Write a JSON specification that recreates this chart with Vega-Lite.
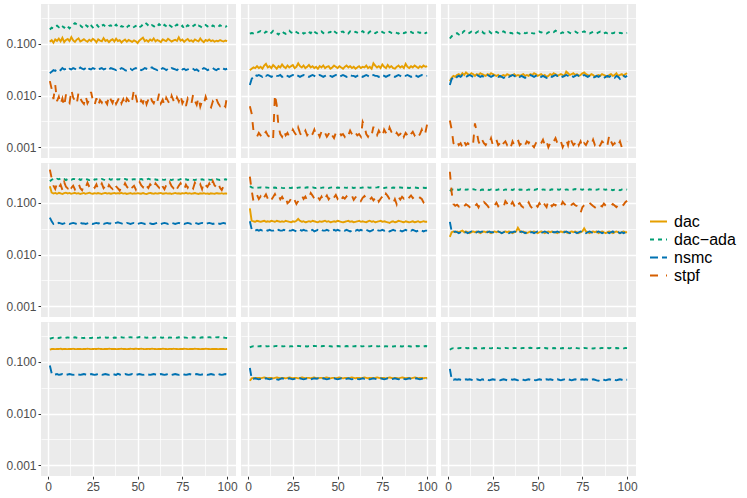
{
  "$schema": "https://vega.github.io/schema/vega-lite/v6.json",
  "background": "white",
  "padding": {"left": 5, "top": 4, "right": 5, "bottom": 5},
  "data": {
    "values": [
      {"r": 1, "c": 1, "method": "dac", "y": [0.110,0.118,0.105,0.122,0.114,0.126,0.112,0.131,0.108,0.119,0.124,0.113,0.135,0.117,0.109,0.121,0.128,0.111,0.116,0.123,0.115,0.110,0.120,0.113,0.125,0.118,0.107,0.122,0.116,0.112,0.129,0.114,0.119,0.108,0.117,0.123,0.111,0.126,0.113,0.118,0.106,0.115,0.121,0.110,0.119,0.114,0.109,0.117,0.112,0.104,0.116,0.124,0.132,0.113,0.118,0.110,0.121,0.115,0.127,0.112,0.119,0.114,0.108,0.122,0.117,0.113,0.125,0.118,0.111,0.116,0.120,0.114,0.134,0.115,0.121,0.109,0.118,0.124,0.113,0.117,0.110,0.122,0.116,0.112,0.127,0.115,0.108,0.119,0.114,0.121,0.113,0.117,0.110,0.115,0.112,0.118,0.114,0.111,0.116,0.113]},
      {"r": 1, "c": 1, "method": "dac-ada", "y": [0.190,0.205,0.198,0.215,0.224,0.210,0.232,0.219,0.205,0.228,0.214,0.200,0.221,0.236,0.252,0.238,0.219,0.226,0.211,0.240,0.231,0.216,0.245,0.228,0.208,0.222,0.239,0.217,0.204,0.226,0.233,0.215,0.210,0.224,0.229,0.207,0.219,0.236,0.212,0.203,0.221,0.214,0.198,0.209,0.226,0.218,0.203,0.212,0.222,0.231,0.210,0.219,0.238,0.259,0.244,0.226,0.213,0.230,0.221,0.206,0.218,0.240,0.224,0.212,0.233,0.219,0.205,0.227,0.214,0.201,0.222,0.236,0.217,0.209,0.225,0.195,0.213,0.229,0.218,0.207,0.221,0.234,0.212,0.226,0.219,0.206,0.214,0.231,0.218,0.224,0.210,0.227,0.216,0.221,0.213,0.229,0.218,0.224,0.215,0.220]},
      {"r": 1, "c": 1, "method": "nsmc", "y": [0.027,0.029,0.031,0.030,0.032,0.033,0.031,0.034,0.032,0.033,0.031,0.033,0.032,0.034,0.033,0.031,0.032,0.035,0.033,0.032,0.034,0.031,0.033,0.032,0.034,0.033,0.031,0.032,0.033,0.034,0.032,0.033,0.031,0.032,0.034,0.033,0.032,0.031,0.033,0.032,0.034,0.033,0.031,0.030,0.032,0.033,0.031,0.033,0.034,0.032,0.033,0.031,0.032,0.034,0.033,0.032,0.034,0.035,0.033,0.032,0.031,0.033,0.032,0.034,0.033,0.031,0.033,0.032,0.034,0.033,0.032,0.031,0.033,0.034,0.032,0.033,0.031,0.032,0.033,0.034,0.033,0.031,0.032,0.030,0.033,0.032,0.034,0.033,0.031,0.032,0.033,0.034,0.032,0.031,0.033,0.032,0.034,0.033,0.032,0.033]},
      {"r": 1, "c": 1, "method": "stpf", "y": [0.019,0.0135,0.0085,0.016,0.0078,0.0095,0.0068,0.0088,0.0062,0.0105,0.0081,0.0072,0.0128,0.0092,0.0079,0.0068,0.0115,0.0088,0.0076,0.0069,0.0098,0.0071,0.0083,0.0118,0.0081,0.0066,0.0089,0.0064,0.0082,0.0073,0.0091,0.0078,0.0068,0.0101,0.0084,0.0072,0.0093,0.0069,0.0081,0.0097,0.0071,0.0085,0.0064,0.0088,0.0079,0.0067,0.0083,0.0131,0.0098,0.0069,0.0063,0.0081,0.0072,0.0094,0.0068,0.0084,0.0102,0.0079,0.0071,0.0089,0.0076,0.0108,0.0071,0.0083,0.0065,0.0091,0.0078,0.0068,0.0099,0.0081,0.0069,0.0092,0.0077,0.0102,0.0071,0.0084,0.0063,0.0088,0.0076,0.0068,0.0105,0.0079,0.0066,0.0091,0.0061,0.0078,0.0069,0.0095,0.0075,0.0064,0.0059,0.0077,0.0068,0.0086,0.0071,0.0063,0.0074,0.0066,0.0061,0.0102]},
      {"r": 1, "c": 2, "method": "dac", "y": [0.031,0.033,0.035,0.034,0.037,0.034,0.036,0.033,0.038,0.041,0.035,0.037,0.034,0.039,0.036,0.033,0.037,0.035,0.040,0.036,0.034,0.038,0.035,0.037,0.039,0.034,0.036,0.042,0.037,0.035,0.038,0.034,0.036,0.039,0.035,0.037,0.034,0.036,0.033,0.037,0.035,0.038,0.034,0.036,0.037,0.033,0.035,0.038,0.036,0.034,0.037,0.035,0.033,0.036,0.038,0.035,0.037,0.034,0.036,0.033,0.035,0.037,0.034,0.036,0.035,0.038,0.034,0.036,0.033,0.042,0.038,0.035,0.037,0.034,0.040,0.036,0.034,0.039,0.035,0.037,0.034,0.033,0.036,0.038,0.035,0.037,0.034,0.041,0.036,0.034,0.037,0.035,0.038,0.036,0.034,0.037,0.035,0.038,0.036,0.037]},
      {"r": 1, "c": 2, "method": "dac-ada", "y": [0.158,0.162,0.160,0.168,0.163,0.171,0.176,0.165,0.159,0.172,0.168,0.155,0.163,0.178,0.166,0.161,0.152,0.169,0.174,0.163,0.157,0.171,0.180,0.167,0.162,0.175,0.169,0.160,0.165,0.172,0.158,0.164,0.177,0.168,0.161,0.183,0.171,0.163,0.156,0.169,0.174,0.162,0.159,0.168,0.165,0.171,0.160,0.176,0.166,0.158,0.163,0.170,0.173,0.161,0.167,0.159,0.174,0.168,0.162,0.171,0.165,0.158,0.167,0.176,0.163,0.169,0.160,0.172,0.178,0.166,0.161,0.168,0.174,0.180,0.169,0.163,0.158,0.166,0.171,0.163,0.160,0.167,0.163,0.158,0.169,0.165,0.161,0.167,0.159,0.164,0.170,0.162,0.166,0.160,0.168,0.163,0.172,0.165,0.161,0.166]},
      {"r": 1, "c": 2, "method": "nsmc", "y": [0.016,0.021,0.023,0.025,0.024,0.025,0.024,0.023,0.025,0.024,0.025,0.024,0.023,0.024,0.025,0.024,0.024,0.025,0.023,0.024,0.025,0.024,0.023,0.024,0.025,0.024,0.025,0.024,0.023,0.024,0.025,0.024,0.024,0.023,0.024,0.025,0.024,0.023,0.024,0.025,0.024,0.023,0.024,0.025,0.024,0.024,0.023,0.024,0.025,0.024,0.023,0.024,0.025,0.024,0.023,0.024,0.025,0.024,0.024,0.023,0.024,0.025,0.024,0.023,0.024,0.025,0.024,0.023,0.024,0.025,0.024,0.024,0.023,0.024,0.025,0.024,0.023,0.024,0.025,0.024,0.024,0.023,0.024,0.025,0.024,0.023,0.024,0.024,0.025,0.024,0.023,0.024,0.025,0.024,0.023,0.024,0.025,0.024,0.024,0.024]},
      {"r": 1, "c": 2, "method": "stpf", "y": [0.0062,0.0045,0.0021,0.0018,0.0016,0.0019,0.0017,0.0015,0.0018,0.0020,0.0017,0.0016,0.0018,0.0015,0.0105,0.0065,0.0025,0.0018,0.0016,0.0021,0.0017,0.0019,0.0016,0.0018,0.0022,0.0019,0.0017,0.0024,0.0019,0.0016,0.0018,0.0021,0.0017,0.0019,0.0016,0.0018,0.0022,0.0017,0.0019,0.0016,0.0020,0.0017,0.0019,0.0016,0.0018,0.0021,0.0017,0.0015,0.0019,0.0018,0.0020,0.0017,0.0018,0.0016,0.0019,0.0017,0.0021,0.0018,0.0016,0.0019,0.0017,0.0018,0.0016,0.0031,0.0026,0.0018,0.0016,0.0019,0.0017,0.0025,0.0019,0.0017,0.0021,0.0018,0.0016,0.0022,0.0019,0.0017,0.0024,0.0020,0.0018,0.0016,0.0019,0.0017,0.0018,0.0021,0.0016,0.0019,0.0017,0.0015,0.0018,0.0020,0.0017,0.0019,0.0016,0.0018,0.0022,0.0017,0.0019,0.0028]},
      {"r": 1, "c": 3, "method": "dac", "y": [0.019,0.022,0.024,0.023,0.025,0.026,0.024,0.027,0.025,0.028,0.026,0.025,0.027,0.026,0.024,0.026,0.025,0.027,0.026,0.025,0.024,0.026,0.025,0.027,0.026,0.025,0.024,0.025,0.023,0.024,0.025,0.024,0.026,0.025,0.024,0.025,0.026,0.024,0.025,0.024,0.025,0.026,0.024,0.025,0.024,0.026,0.025,0.027,0.026,0.024,0.025,0.026,0.024,0.025,0.023,0.024,0.026,0.025,0.027,0.026,0.024,0.025,0.026,0.025,0.024,0.029,0.027,0.025,0.026,0.027,0.025,0.026,0.024,0.025,0.027,0.028,0.026,0.025,0.024,0.026,0.025,0.023,0.024,0.025,0.024,0.026,0.025,0.024,0.023,0.025,0.026,0.024,0.025,0.027,0.024,0.025,0.026,0.024,0.026,0.027]},
      {"r": 1, "c": 3, "method": "dac-ada", "y": [0.127,0.140,0.148,0.155,0.161,0.152,0.170,0.164,0.178,0.167,0.158,0.163,0.172,0.165,0.157,0.168,0.175,0.166,0.172,0.160,0.158,0.167,0.174,0.162,0.155,0.165,0.171,0.163,0.158,0.169,0.174,0.165,0.161,0.157,0.164,0.159,0.166,0.171,0.163,0.158,0.165,0.168,0.160,0.163,0.172,0.166,0.161,0.158,0.164,0.169,0.173,0.166,0.170,0.163,0.159,0.167,0.171,0.176,0.169,0.180,0.172,0.165,0.161,0.167,0.158,0.164,0.170,0.163,0.159,0.166,0.172,0.165,0.160,0.163,0.169,0.174,0.166,0.162,0.158,0.165,0.171,0.164,0.160,0.166,0.172,0.163,0.159,0.165,0.161,0.168,0.163,0.160,0.165,0.162,0.158,0.164,0.161,0.166,0.162,0.163]},
      {"r": 1, "c": 3, "method": "nsmc", "y": [0.016,0.021,0.022,0.021,0.023,0.024,0.023,0.025,0.024,0.023,0.024,0.025,0.024,0.023,0.024,0.025,0.024,0.023,0.024,0.023,0.024,0.025,0.024,0.023,0.024,0.025,0.024,0.023,0.024,0.023,0.022,0.023,0.024,0.023,0.024,0.025,0.024,0.023,0.024,0.023,0.024,0.023,0.022,0.023,0.024,0.025,0.024,0.023,0.024,0.025,0.024,0.023,0.024,0.023,0.022,0.023,0.024,0.023,0.024,0.025,0.024,0.025,0.024,0.023,0.024,0.025,0.024,0.023,0.024,0.023,0.024,0.025,0.024,0.023,0.024,0.025,0.024,0.023,0.024,0.023,0.022,0.023,0.024,0.023,0.024,0.023,0.022,0.023,0.024,0.023,0.024,0.023,0.022,0.024,0.023,0.021,0.023,0.024,0.023,0.024]},
      {"r": 1, "c": 3, "method": "stpf", "y": [0.0033,0.0022,0.0012,0.0011,0.0013,0.0011,0.0012,0.0010,0.0013,0.0011,0.0012,0.0011,0.0013,0.0012,0.0029,0.0020,0.0013,0.0011,0.0014,0.0012,0.0011,0.0013,0.0012,0.0015,0.0011,0.0012,0.0014,0.0011,0.0012,0.0010,0.0012,0.0013,0.0011,0.0012,0.0010,0.0013,0.0011,0.0012,0.0014,0.0011,0.0012,0.0010,0.0011,0.0013,0.0012,0.0014,0.0011,0.0010,0.0012,0.0013,0.0011,0.0012,0.0014,0.0011,0.0013,0.0010,0.0012,0.0011,0.0013,0.0015,0.0012,0.0011,0.0013,0.0010,0.0012,0.0014,0.0011,0.0016,0.0013,0.0011,0.0012,0.0014,0.0011,0.0013,0.0010,0.0012,0.0011,0.0013,0.0012,0.0011,0.0014,0.0011,0.0012,0.0010,0.0011,0.0013,0.0012,0.0010,0.0011,0.0017,0.0013,0.0011,0.0012,0.0010,0.0011,0.0013,0.0010,0.0011,0.0012,0.0013]},
      {"r": 2, "c": 1, "method": "dac", "y": [0.210,0.158,0.152,0.155,0.150,0.156,0.153,0.149,0.154,0.157,0.152,0.155,0.150,0.153,0.156,0.151,0.154,0.149,0.152,0.155,0.150,0.153,0.157,0.152,0.150,0.154,0.151,0.155,0.152,0.149,0.153,0.156,0.151,0.154,0.150,0.153,0.155,0.151,0.154,0.152,0.156,0.151,0.153,0.149,0.152,0.155,0.150,0.153,0.151,0.154,0.152,0.150,0.155,0.151,0.148,0.153,0.156,0.152,0.150,0.154,0.151,0.153,0.155,0.150,0.152,0.154,0.151,0.153,0.149,0.152,0.155,0.151,0.153,0.150,0.154,0.152,0.156,0.151,0.153,0.150,0.152,0.155,0.151,0.149,0.153,0.151,0.154,0.150,0.152,0.149,0.153,0.151,0.150,0.154,0.152,0.151,0.153,0.150,0.152,0.151]},
      {"r": 2, "c": 1, "method": "dac-ada", "y": [0.262,0.280,0.289,0.278,0.293,0.285,0.296,0.282,0.288,0.276,0.291,0.284,0.279,0.290,0.287,0.281,0.293,0.278,0.286,0.280,0.289,0.283,0.276,0.285,0.292,0.281,0.287,0.279,0.284,0.290,0.282,0.277,0.286,0.291,0.280,0.285,0.278,0.289,0.283,0.287,0.279,0.284,0.290,0.281,0.286,0.278,0.283,0.288,0.282,0.276,0.285,0.290,0.281,0.287,0.279,0.293,0.284,0.280,0.288,0.283,0.277,0.286,0.291,0.282,0.279,0.285,0.289,0.281,0.276,0.284,0.290,0.283,0.279,0.287,0.292,0.281,0.285,0.278,0.283,0.289,0.281,0.276,0.284,0.288,0.280,0.285,0.279,0.283,0.287,0.281,0.278,0.284,0.280,0.286,0.282,0.277,0.283,0.280,0.285,0.281]},
      {"r": 2, "c": 1, "method": "nsmc", "y": [0.052,0.044,0.039,0.040,0.039,0.041,0.040,0.039,0.040,0.041,0.040,0.039,0.040,0.041,0.040,0.039,0.040,0.041,0.040,0.040,0.039,0.040,0.041,0.040,0.039,0.040,0.041,0.040,0.041,0.040,0.039,0.040,0.041,0.040,0.040,0.039,0.040,0.041,0.042,0.041,0.040,0.039,0.040,0.041,0.040,0.039,0.040,0.041,0.040,0.039,0.040,0.041,0.040,0.039,0.040,0.041,0.040,0.039,0.039,0.040,0.041,0.040,0.039,0.040,0.041,0.040,0.039,0.040,0.041,0.040,0.039,0.040,0.041,0.040,0.040,0.039,0.040,0.041,0.040,0.039,0.040,0.041,0.040,0.039,0.040,0.041,0.040,0.039,0.040,0.041,0.040,0.039,0.040,0.041,0.040,0.039,0.040,0.041,0.040,0.040]},
      {"r": 2, "c": 1, "method": "stpf", "y": [0.440,0.300,0.215,0.185,0.240,0.198,0.225,0.178,0.252,0.205,0.190,0.232,0.196,0.215,0.182,0.208,0.238,0.192,0.176,0.220,0.199,0.245,0.205,0.185,0.214,0.196,0.228,0.181,0.203,0.236,0.192,0.210,0.178,0.221,0.199,0.186,0.235,0.207,0.190,0.172,0.211,0.196,0.240,0.205,0.188,0.226,0.199,0.214,0.181,0.233,0.257,0.219,0.201,0.246,0.213,0.194,0.229,0.208,0.187,0.238,0.215,0.197,0.244,0.206,0.183,0.220,0.199,0.248,0.211,0.193,0.226,0.187,0.214,0.240,0.202,0.180,0.225,0.197,0.233,0.209,0.189,0.244,0.216,0.198,0.228,0.185,0.251,0.220,0.203,0.236,0.195,0.262,0.218,0.202,0.240,0.196,0.177,0.213,0.187,0.205]},
      {"r": 2, "c": 2, "method": "dac", "y": [0.078,0.045,0.044,0.043,0.045,0.044,0.043,0.044,0.045,0.043,0.044,0.043,0.045,0.044,0.043,0.045,0.044,0.043,0.044,0.043,0.045,0.044,0.043,0.042,0.044,0.043,0.045,0.049,0.045,0.043,0.044,0.042,0.043,0.044,0.043,0.045,0.044,0.043,0.042,0.044,0.043,0.044,0.045,0.043,0.044,0.042,0.043,0.044,0.043,0.045,0.044,0.043,0.042,0.043,0.044,0.045,0.043,0.044,0.042,0.043,0.044,0.045,0.043,0.044,0.043,0.042,0.044,0.045,0.043,0.044,0.042,0.043,0.044,0.045,0.043,0.044,0.043,0.042,0.041,0.043,0.044,0.042,0.043,0.045,0.044,0.043,0.042,0.044,0.043,0.042,0.043,0.044,0.042,0.043,0.044,0.042,0.043,0.044,0.043,0.043]},
      {"r": 2, "c": 2, "method": "dac-ada", "y": [0.210,0.199,0.196,0.198,0.195,0.197,0.199,0.196,0.194,0.198,0.197,0.195,0.199,0.196,0.198,0.194,0.197,0.199,0.195,0.193,0.197,0.199,0.196,0.194,0.198,0.196,0.193,0.197,0.199,0.195,0.198,0.196,0.200,0.197,0.195,0.199,0.196,0.194,0.198,0.197,0.195,0.199,0.196,0.198,0.194,0.197,0.199,0.196,0.195,0.198,0.196,0.194,0.198,0.197,0.195,0.199,0.196,0.198,0.194,0.197,0.199,0.196,0.195,0.198,0.197,0.194,0.199,0.196,0.198,0.195,0.197,0.199,0.202,0.198,0.196,0.194,0.197,0.199,0.196,0.195,0.198,0.196,0.194,0.197,0.199,0.196,0.195,0.198,0.196,0.194,0.197,0.195,0.198,0.196,0.194,0.197,0.195,0.196,0.194,0.196]},
      {"r": 2, "c": 2, "method": "nsmc", "y": [0.044,0.031,0.030,0.029,0.030,0.029,0.030,0.029,0.029,0.030,0.029,0.030,0.029,0.029,0.030,0.029,0.030,0.029,0.029,0.030,0.029,0.030,0.029,0.029,0.030,0.029,0.028,0.029,0.030,0.029,0.030,0.029,0.029,0.030,0.029,0.030,0.028,0.029,0.030,0.029,0.030,0.029,0.029,0.030,0.029,0.028,0.029,0.030,0.029,0.030,0.029,0.029,0.030,0.029,0.030,0.029,0.028,0.029,0.030,0.029,0.030,0.029,0.030,0.029,0.029,0.030,0.029,0.028,0.029,0.030,0.029,0.030,0.029,0.029,0.030,0.029,0.030,0.029,0.028,0.029,0.030,0.029,0.029,0.030,0.029,0.028,0.029,0.030,0.029,0.030,0.029,0.030,0.029,0.028,0.029,0.030,0.029,0.028,0.029,0.029]},
      {"r": 2, "c": 2, "method": "stpf", "y": [0.320,0.175,0.108,0.125,0.142,0.118,0.133,0.110,0.128,0.146,0.121,0.137,0.115,0.130,0.148,0.124,0.139,0.117,0.131,0.112,0.127,0.098,0.105,0.121,0.135,0.113,0.095,0.108,0.126,0.140,0.119,0.132,0.112,0.126,0.155,0.138,0.121,0.143,0.129,0.115,0.132,0.108,0.124,0.139,0.117,0.131,0.113,0.127,0.142,0.120,0.136,0.115,0.129,0.121,0.133,0.118,0.126,0.137,0.114,0.128,0.141,0.123,0.109,0.125,0.135,0.119,0.130,0.116,0.127,0.112,0.124,0.138,0.106,0.120,0.133,0.117,0.150,0.135,0.119,0.113,0.097,0.118,0.094,0.129,0.116,0.131,0.121,0.135,0.118,0.127,0.139,0.124,0.133,0.120,0.114,0.126,0.119,0.102,0.111,0.124]},
      {"r": 2, "c": 3, "method": "dac", "y": [0.022,0.027,0.028,0.027,0.028,0.027,0.028,0.029,0.027,0.028,0.027,0.026,0.027,0.028,0.027,0.028,0.027,0.026,0.027,0.028,0.027,0.028,0.027,0.026,0.027,0.028,0.027,0.028,0.027,0.026,0.027,0.028,0.027,0.028,0.027,0.026,0.027,0.028,0.033,0.029,0.027,0.028,0.027,0.026,0.027,0.028,0.027,0.028,0.027,0.026,0.027,0.028,0.027,0.026,0.027,0.028,0.027,0.028,0.027,0.027,0.026,0.027,0.028,0.027,0.028,0.027,0.026,0.027,0.028,0.027,0.028,0.027,0.026,0.027,0.028,0.032,0.028,0.027,0.026,0.027,0.028,0.027,0.028,0.026,0.027,0.028,0.027,0.026,0.027,0.028,0.027,0.026,0.027,0.028,0.027,0.026,0.027,0.028,0.027,0.027]},
      {"r": 2, "c": 3, "method": "dac-ada", "y": [0.170,0.182,0.179,0.184,0.181,0.178,0.183,0.180,0.185,0.179,0.182,0.177,0.181,0.184,0.180,0.178,0.183,0.176,0.181,0.179,0.184,0.180,0.177,0.182,0.179,0.183,0.178,0.181,0.185,0.180,0.177,0.182,0.179,0.184,0.181,0.178,0.183,0.180,0.176,0.181,0.179,0.184,0.180,0.177,0.182,0.179,0.183,0.178,0.181,0.185,0.180,0.177,0.182,0.179,0.184,0.181,0.178,0.183,0.180,0.176,0.181,0.179,0.184,0.180,0.177,0.182,0.179,0.183,0.178,0.181,0.185,0.180,0.177,0.182,0.179,0.184,0.181,0.178,0.183,0.180,0.176,0.181,0.179,0.184,0.180,0.177,0.182,0.179,0.183,0.178,0.181,0.176,0.180,0.183,0.179,0.175,0.181,0.178,0.182,0.180]},
      {"r": 2, "c": 3, "method": "nsmc", "y": [0.043,0.028,0.027,0.028,0.027,0.026,0.027,0.028,0.027,0.027,0.026,0.027,0.028,0.027,0.026,0.027,0.028,0.027,0.028,0.027,0.026,0.027,0.028,0.027,0.027,0.026,0.027,0.028,0.027,0.026,0.027,0.028,0.027,0.026,0.027,0.027,0.028,0.027,0.026,0.027,0.028,0.027,0.026,0.027,0.028,0.027,0.027,0.026,0.027,0.028,0.027,0.026,0.027,0.028,0.027,0.026,0.027,0.028,0.027,0.027,0.028,0.027,0.026,0.027,0.027,0.028,0.027,0.026,0.027,0.028,0.027,0.026,0.027,0.028,0.027,0.027,0.026,0.027,0.028,0.027,0.026,0.027,0.027,0.028,0.027,0.026,0.027,0.028,0.027,0.026,0.027,0.028,0.026,0.027,0.027,0.026,0.027,0.026,0.027,0.027]},
      {"r": 2, "c": 3, "method": "stpf", "y": [0.400,0.160,0.095,0.088,0.092,0.085,0.098,0.090,0.086,0.094,0.089,0.083,0.097,0.091,0.087,0.095,0.082,0.099,0.092,0.104,0.096,0.088,0.079,0.085,0.093,0.089,0.101,0.086,0.094,0.090,0.083,0.108,0.097,0.080,0.091,0.104,0.088,0.076,0.093,0.099,0.087,0.082,0.095,0.089,0.102,0.086,0.079,0.097,0.091,0.084,0.099,0.088,0.106,0.092,0.083,0.111,0.098,0.086,0.094,0.089,0.101,0.093,0.087,0.105,0.095,0.088,0.084,0.079,0.092,0.097,0.090,0.086,0.071,0.064,0.082,0.090,0.095,0.088,0.100,0.093,0.087,0.082,0.094,0.099,0.089,0.085,0.097,0.088,0.084,0.092,0.087,0.095,0.089,0.083,0.091,0.098,0.086,0.092,0.103,0.110]},
      {"r": 3, "c": 1, "method": "dac", "y": [0.172,0.177,0.178,0.176,0.178,0.177,0.179,0.176,0.178,0.177,0.176,0.178,0.177,0.179,0.177,0.176,0.178,0.177,0.176,0.178,0.177,0.179,0.178,0.176,0.177,0.178,0.177,0.179,0.178,0.177,0.176,0.178,0.177,0.179,0.178,0.177,0.178,0.176,0.177,0.178,0.179,0.177,0.178,0.176,0.177,0.179,0.178,0.177,0.180,0.178,0.177,0.179,0.178,0.176,0.177,0.178,0.177,0.179,0.178,0.177,0.176,0.178,0.177,0.179,0.178,0.177,0.176,0.178,0.177,0.179,0.178,0.177,0.176,0.178,0.177,0.179,0.178,0.176,0.177,0.178,0.177,0.179,0.178,0.177,0.176,0.178,0.177,0.179,0.178,0.177,0.176,0.178,0.177,0.178,0.176,0.177,0.178,0.177,0.176,0.177]},
      {"r": 3, "c": 1, "method": "dac-ada", "y": [0.280,0.288,0.292,0.289,0.294,0.290,0.296,0.291,0.288,0.293,0.297,0.292,0.289,0.294,0.298,0.293,0.290,0.295,0.291,0.289,0.294,0.296,0.292,0.289,0.295,0.299,0.294,0.291,0.296,0.293,0.290,0.295,0.292,0.297,0.294,0.291,0.296,0.293,0.290,0.295,0.299,0.294,0.296,0.292,0.297,0.300,0.296,0.293,0.298,0.295,0.302,0.298,0.294,0.297,0.293,0.296,0.299,0.295,0.292,0.297,0.294,0.291,0.296,0.293,0.298,0.295,0.292,0.297,0.294,0.291,0.296,0.293,0.298,0.295,0.292,0.297,0.294,0.291,0.296,0.293,0.298,0.295,0.292,0.296,0.293,0.298,0.295,0.292,0.297,0.300,0.296,0.299,0.302,0.298,0.301,0.297,0.300,0.296,0.291,0.289]},
      {"r": 3, "c": 1, "method": "nsmc", "y": [0.085,0.060,0.056,0.057,0.058,0.056,0.057,0.058,0.057,0.056,0.057,0.058,0.057,0.056,0.057,0.058,0.057,0.056,0.057,0.058,0.057,0.056,0.057,0.058,0.057,0.056,0.057,0.058,0.057,0.056,0.057,0.058,0.057,0.056,0.057,0.058,0.057,0.056,0.059,0.057,0.056,0.057,0.058,0.057,0.056,0.057,0.058,0.057,0.056,0.057,0.058,0.057,0.056,0.057,0.058,0.057,0.056,0.057,0.058,0.057,0.056,0.057,0.058,0.057,0.056,0.057,0.058,0.057,0.056,0.057,0.058,0.057,0.056,0.057,0.058,0.057,0.056,0.057,0.058,0.057,0.056,0.057,0.058,0.057,0.056,0.057,0.058,0.057,0.056,0.057,0.058,0.057,0.056,0.057,0.058,0.057,0.056,0.057,0.058,0.057]},
      {"r": 3, "c": 2, "method": "dac", "y": [0.043,0.048,0.049,0.048,0.049,0.049,0.048,0.049,0.050,0.049,0.048,0.049,0.049,0.048,0.049,0.050,0.049,0.048,0.049,0.049,0.048,0.049,0.050,0.049,0.048,0.049,0.049,0.048,0.049,0.050,0.049,0.048,0.049,0.049,0.048,0.049,0.050,0.049,0.048,0.049,0.049,0.048,0.049,0.050,0.049,0.048,0.049,0.049,0.048,0.049,0.050,0.049,0.048,0.049,0.049,0.048,0.049,0.050,0.049,0.048,0.049,0.049,0.048,0.049,0.050,0.049,0.048,0.049,0.049,0.048,0.049,0.050,0.049,0.048,0.049,0.049,0.048,0.049,0.050,0.049,0.048,0.049,0.049,0.048,0.049,0.050,0.049,0.048,0.049,0.049,0.048,0.049,0.050,0.049,0.048,0.049,0.049,0.048,0.049,0.049]},
      {"r": 3, "c": 2, "method": "dac-ada", "y": [0.190,0.197,0.200,0.198,0.201,0.199,0.202,0.200,0.198,0.201,0.199,0.202,0.200,0.198,0.201,0.203,0.200,0.198,0.201,0.199,0.202,0.200,0.198,0.201,0.199,0.202,0.200,0.203,0.201,0.199,0.202,0.200,0.198,0.201,0.199,0.202,0.204,0.201,0.199,0.202,0.200,0.203,0.201,0.199,0.202,0.200,0.198,0.201,0.199,0.202,0.200,0.198,0.201,0.199,0.202,0.200,0.203,0.201,0.199,0.202,0.200,0.198,0.201,0.199,0.202,0.204,0.201,0.199,0.202,0.200,0.198,0.201,0.199,0.202,0.200,0.198,0.201,0.199,0.197,0.200,0.198,0.201,0.199,0.202,0.200,0.198,0.201,0.199,0.202,0.200,0.198,0.201,0.199,0.202,0.200,0.203,0.201,0.199,0.202,0.200]},
      {"r": 3, "c": 2, "method": "nsmc", "y": [0.076,0.048,0.047,0.048,0.047,0.046,0.047,0.048,0.047,0.048,0.047,0.046,0.047,0.048,0.047,0.046,0.045,0.047,0.048,0.047,0.046,0.047,0.048,0.047,0.046,0.047,0.048,0.047,0.048,0.047,0.046,0.047,0.048,0.047,0.046,0.047,0.048,0.047,0.048,0.046,0.047,0.048,0.047,0.046,0.047,0.048,0.047,0.048,0.047,0.046,0.047,0.048,0.047,0.046,0.047,0.048,0.047,0.046,0.047,0.048,0.047,0.046,0.047,0.048,0.047,0.048,0.047,0.046,0.047,0.048,0.047,0.046,0.047,0.048,0.047,0.046,0.047,0.048,0.047,0.046,0.047,0.048,0.047,0.046,0.047,0.048,0.047,0.046,0.047,0.048,0.047,0.046,0.047,0.048,0.047,0.046,0.047,0.048,0.047,0.047]},
      {"r": 3, "c": 3, "method": "dac-ada", "y": [0.172,0.181,0.184,0.182,0.185,0.183,0.186,0.184,0.182,0.185,0.183,0.186,0.184,0.182,0.185,0.183,0.186,0.184,0.182,0.185,0.183,0.186,0.184,0.182,0.185,0.183,0.186,0.184,0.182,0.185,0.183,0.186,0.184,0.182,0.185,0.183,0.186,0.184,0.182,0.185,0.183,0.186,0.184,0.182,0.185,0.187,0.184,0.182,0.185,0.183,0.186,0.184,0.182,0.185,0.183,0.181,0.184,0.182,0.185,0.183,0.186,0.184,0.182,0.185,0.183,0.186,0.184,0.182,0.185,0.183,0.186,0.184,0.182,0.185,0.183,0.186,0.184,0.182,0.185,0.183,0.181,0.184,0.182,0.185,0.183,0.186,0.184,0.182,0.185,0.183,0.186,0.184,0.182,0.185,0.183,0.186,0.184,0.182,0.185,0.184]},
      {"r": 3, "c": 3, "method": "nsmc", "y": [0.073,0.047,0.045,0.046,0.045,0.046,0.045,0.044,0.045,0.046,0.045,0.046,0.045,0.044,0.045,0.046,0.045,0.044,0.046,0.045,0.046,0.045,0.044,0.045,0.046,0.045,0.046,0.045,0.044,0.045,0.046,0.045,0.044,0.045,0.046,0.045,0.046,0.045,0.044,0.045,0.046,0.045,0.044,0.045,0.046,0.045,0.046,0.045,0.044,0.045,0.046,0.045,0.044,0.045,0.046,0.045,0.046,0.045,0.044,0.045,0.046,0.045,0.044,0.045,0.046,0.047,0.046,0.045,0.044,0.045,0.046,0.045,0.044,0.045,0.046,0.045,0.046,0.045,0.044,0.045,0.046,0.045,0.044,0.043,0.045,0.046,0.045,0.044,0.045,0.046,0.045,0.046,0.045,0.044,0.045,0.046,0.045,0.044,0.045,0.045]}
    ]
  },
  "transform": [
    {"flatten": ["y"]},
    {"window": [{"op": "row_number", "as": "x"}], "groupby": ["r", "c", "method"]}
  ],
  "facet": {
    "row": {"field": "r", "type": "ordinal", "header": null},
    "column": {"field": "c", "type": "ordinal", "header": null}
  },
  "spacing": {"row": 5, "column": 5},
  "spec": {
    "width": 195,
    "height": 154,
    "mark": {"type": "line", "strokeWidth": 1.9, "clip": true},
    "encoding": {
      "x": {
        "field": "x",
        "type": "quantitative",
        "scale": {"domain": [-3.95, 104.95], "nice": false, "zero": false},
        "axis": {
          "title": null,
          "values": [0, 12.5, 25, 37.5, 50, 62.5, 75, 87.5, 100],
          "labelExpr": "datum.value % 25 == 0 ? datum.label : ''",
          "gridWidth": {"condition": {"test": "datum.value % 25 == 0", "value": 1.4}, "value": 0.7},
          "tickOpacity": {"condition": {"test": "datum.value % 25 == 0", "value": 1}, "value": 0}
        }
      },
      "y": {
        "field": "y",
        "type": "quantitative",
        "scale": {"type": "log", "domain": [0.00062, 0.59], "nice": false},
        "axis": {
          "title": null,
          "values": [0.001, 0.00316, 0.01, 0.0316, 0.1, 0.316],
          "format": ".3f",
          "labelExpr": "indexof([0.001, 0.01, 0.1], datum.value) >= 0 ? datum.label : ''",
          "gridWidth": {"condition": {"test": "indexof([0.001, 0.01, 0.1], datum.value) >= 0", "value": 1.4}, "value": 0.7},
          "tickOpacity": {"condition": {"test": "indexof([0.001, 0.01, 0.1], datum.value) >= 0", "value": 1}, "value": 0}
        }
      },
      "color": {
        "field": "method",
        "type": "nominal",
        "scale": {"domain": ["dac", "dac-ada", "nsmc", "stpf"], "range": ["#E69F00", "#009E73", "#0072B2", "#D55E00"]},
        "legend": {"title": null, "orient": "none", "legendX": 608, "legendY": 208, "labelExpr": "replace(datum.label, '-', '−')"}
      },
      "strokeDash": {
        "field": "method",
        "type": "nominal",
        "scale": {"domain": ["dac", "dac-ada", "nsmc", "stpf"], "range": [[1, 0], [4, 4], [8, 4], [8, 8]]},
        "legend": {"title": null, "orient": "none", "legendX": 608, "legendY": 208, "labelExpr": "replace(datum.label, '-', '−')"}
      }
    }
  },
  "config": {
    "font": "Liberation Sans",
    "view": {"fill": "#EBEBEB", "stroke": null},
    "axis": {
      "domain": false,
      "gridColor": "#FFFFFF",
      "labelColor": "#4D4D4D",
      "labelFont": "Liberation Sans",
      "labelFontSize": 12,
      "labelPadding": 2,
      "tickColor": "#333333",
      "tickSize": 3,
      "tickWidth": 1
    },
    "legend": {
      "labelFont": "Liberation Sans",
      "labelFontSize": 16,
      "labelColor": "#000000",
      "labelOffset": 6,
      "symbolType": "stroke",
      "symbolSize": 289,
      "symbolStrokeWidth": 1.9,
      "rowPadding": 0,
      "padding": 0
    }
  }
}
